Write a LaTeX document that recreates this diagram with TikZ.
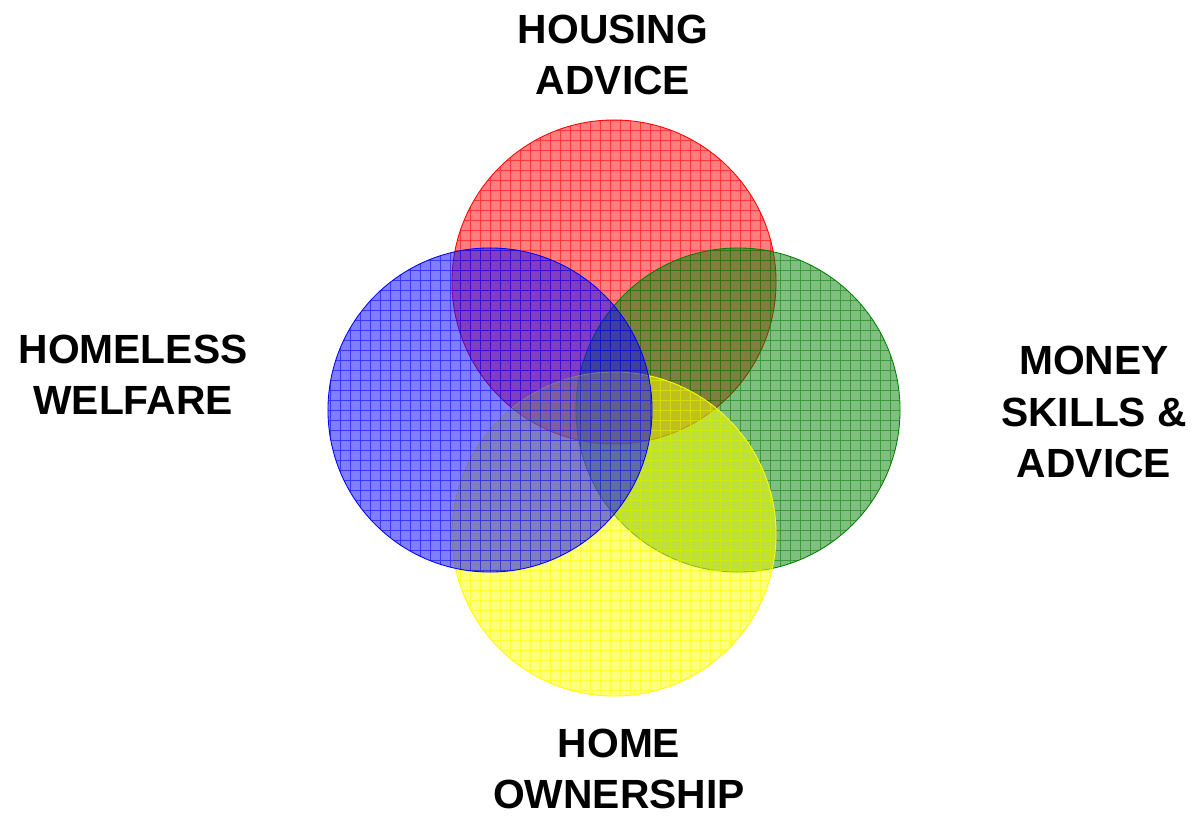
\documentclass[tikz,border=0pt]{standalone}
\usepackage{fontspec}
\setmainfont{Liberation Sans}
\usepackage{xcolor}
\usetikzlibrary{positioning,calc}
\definecolor{setRed}{HTML}{FF0000}
\definecolor{setGreen}{HTML}{008000}
\definecolor{setBlue}{HTML}{0000FF}
\definecolor{setYellow}{HTML}{FFFF00}
\tikzstyle{setCircle} =[circle, minimum size=8.1cm, inner sep=0pt]
\tikzstyle{setLabel}  =[align=center, font=\bfseries\fontsize{29}{36.3}\selectfont]
\newcommand{\hatchset}[2]{% node, colour
  \fill[#2, opacity=0.5] (#1.center) circle (4.05cm);
  \begin{scope}
    \clip (#1.center) circle (4.05cm);
    \draw[#2, opacity=0.55, line width=0.6pt, step=0.25cm]
      ($(#1.center)+(-4.2cm,-4.2cm)$) grid ($(#1.center)+(4.2cm,4.2cm)$);
  \end{scope}
  \draw[#2, line width=0.6pt] (#1.center) circle (4.05cm);
}

\begin{document}
\begin{tikzpicture}[x=0.025cm, y=-0.025cm]
      \useasboundingbox (0,0) rectangle (1196,815);
      \node[setCircle] (housing) at (614,282) {};
      \node[setCircle] (homeless) at (490,410) {};
      \node[setCircle] (money) at (738,410) {};
      \node[setCircle] (owner) at (614,534) {};
      \hatchset{housing}{setRed}
      \hatchset{money}{setGreen}
      \hatchset{owner}{setYellow}
      \hatchset{homeless}{setBlue}
      \node[setLabel] (tHousing) at (613,55) {HOUSING\\ADVICE};
      \node[setLabel] (tHomeless) at (133,375) {HOMELESS\\WELFARE};
      \node[setLabel] (tMoney) at (1094,412) {MONEY\\SKILLS \&\\ADVICE};
      \node[setLabel] (tOwner) at (619,769) {HOME\\OWNERSHIP};
    \end{tikzpicture}
\end{document}
